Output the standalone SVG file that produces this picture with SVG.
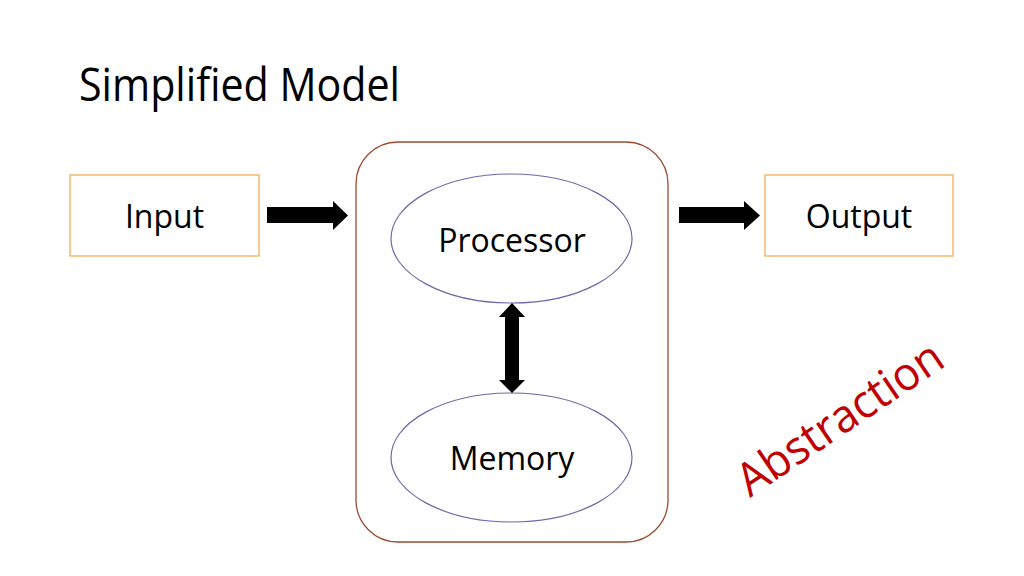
<svg xmlns="http://www.w3.org/2000/svg" width="1024" height="576" viewBox="0 0 1024 576">
<style>
text{font-family:"Open Sans","Noto Sans",sans-serif;fill:#000}
.box{fill:#fff;stroke:#F5B870;stroke-width:1.5}
.ell{fill:#fff;stroke:#7565A8;stroke-width:1.2}
.cont{fill:#fff;stroke:#9C4A32;stroke-width:1.3}
.lbl{font-size:32px;text-anchor:middle}
.arr{fill:#000}
</style>
<rect width="1024" height="576" fill="#fff"/>
<text x="79" y="101" font-size="46" textLength="321" lengthAdjust="spacingAndGlyphs">Simplified Model</text>
<g id="system">
<rect class="cont" x="356" y="142" width="312" height="400" rx="42" ry="42"/>
</g>
<g id="input">
<rect class="box" x="70" y="175" width="189" height="81"/>
<text class="lbl" x="164.5" y="228">Input</text>
</g>
<g id="output">
<rect class="box" x="765" y="175" width="188" height="81"/>
<text class="lbl" x="859" y="228">Output</text>
</g>
<g id="processor">
<ellipse class="ell" cx="511.5" cy="238.5" rx="120.5" ry="64.5"/>
<text class="lbl" x="512" y="252">Processor</text>
</g>
<g id="memory">
<ellipse class="ell" cx="511.5" cy="457.5" rx="120.5" ry="64.5"/>
<text class="lbl" x="512" y="470">Memory</text>
</g>
<g id="connectors">
<polygon class="arr" points="267,207 333,207 333,201 348,215.5 333,230 333,223 267,223"/>
<polygon class="arr" points="679,207 744,207 744,201 760,215.5 744,230 744,223 679,223"/>
<polygon class="arr" points="512,303 525,317 519,317 519,380 525,380 512,393 499,380 505,380 505,317 499,317"/>
</g>
<text transform="translate(750,498) rotate(-34)" x="0" y="0" font-size="46" textLength="238" lengthAdjust="spacingAndGlyphs" style="fill:#C00000">Abstraction</text>
</svg>
